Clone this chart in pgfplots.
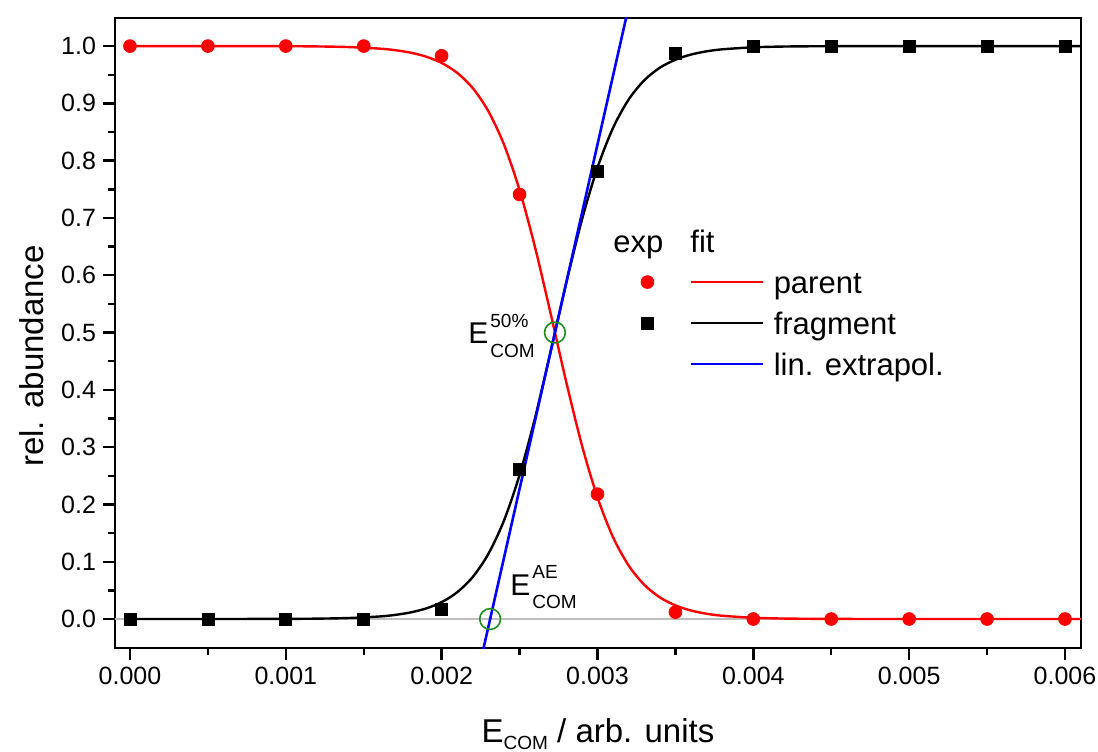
\documentclass[border=0pt]{standalone}
\usepackage{fontspec}
\setmainfont{Liberation Sans}
\usepackage{pgfplots}
\pgfplotsset{compat=1.18}
\usepackage{pgfplotstable}
\usetikzlibrary{calc}

\definecolor{cgreen}{RGB}{30,140,30}
\definecolor{cgray}{RGB}{190,190,190}

\pgfplotstableread{
x y
0.0000 1.000
0.0005 1.000
0.0010 1.000
0.0015 1.000
0.0020 0.983
0.0025 0.741
0.0030 0.218
0.0035 0.012
0.0040 0.000
0.0045 0.000
0.0050 0.000
0.0055 0.000
0.0060 0.000
}\parentexp

\pgfplotstableread{
x y
0.0000 0.000
0.0005 0.000
0.0010 0.000
0.0015 0.000
0.0020 0.017
0.0025 0.261
0.0030 0.782
0.0035 0.988
0.0040 1.000
0.0045 1.000
0.0050 1.000
0.0055 1.000
0.0060 1.000
}\fragexp

\pgfplotstableread{
x frag par
0.0000 0.00000 1.00000
0.0005 0.00002 0.99998
0.0010 0.00025 0.99975
0.0012 0.00065 0.99935
0.0014 0.00169 0.99831
0.0016 0.00441 0.99559
0.0017 0.00712 0.99288
0.0018 0.01147 0.98853
0.0019 0.01841 0.98159
0.0020 0.02945 0.97055
0.0021 0.04680 0.95320
0.0022 0.07353 0.92647
0.0023 0.11380 0.88620
0.0024 0.17190 0.82810
0.0025 0.25140 0.74860
0.0026 0.35190 0.64810
0.0027 0.46760 0.53240
0.0028 0.58690 0.41310
0.0029 0.69670 0.30330
0.0030 0.78790 0.21210
0.0031 0.85730 0.14270
0.0032 0.90670 0.09330
0.0033 0.94020 0.05980
0.0034 0.96220 0.03780
0.0035 0.97620 0.02380
0.0036 0.98520 0.01480
0.0037 0.99080 0.00920
0.0038 0.99430 0.00570
0.0040 0.99780 0.00220
0.0042 0.99920 0.00080
0.0045 0.99980 0.00020
0.0050 1.00000 0.00000
0.0055 1.00000 0.00000
0.0061 1.00000 0.00000
}\fits

\begin{document}
\begin{tikzpicture}
\begin{axis}[
  scale only axis,
  width=483pt, height=315pt,
  xmin=-0.0000962, xmax=0.0061028,
  ymin=-0.0506, ymax=1.049,
  xtick={0,0.001,0.002,0.003,0.004,0.005,0.006},
  ytick={0,0.1,0.2,0.3,0.4,0.5,0.6,0.7,0.8,0.9,1.0},
  minor x tick num=1, minor y tick num=1,
  scaled x ticks=false, scaled y ticks=false,
  xticklabel style={/pgf/number format/.cd, fixed, fixed zerofill, precision=3, assume math mode=true},
  yticklabel style={/pgf/number format/.cd, fixed, fixed zerofill, precision=1, assume math mode=true},
  ticklabel style={font=\fontsize{12.5}{12.5}\selectfont},
  tick pos=left, tick align=outside,
  major tick length=6pt, minor tick length=3.5pt,
  every tick/.style={black, line width=1.2pt},
  axis line style={line width=1.4pt},
  xlabel={E\raisebox{-3.5pt}{\fontsize{9.5}{9.5}\selectfont COM} / arb. units},
  ylabel={rel. abundance},
  label style={font=\fontsize{16.5}{16.5}\selectfont},
  xlabel style={at={(axis description cs:0.5,-0.1492)}, anchor=base},
  ylabel style={at={(axis description cs:-0.0745,0.4635)}, anchor=base, rotate=0},
  legend style={at={(axis cs:0.003277,0.6073)}, anchor=north west, draw=none, fill=none,
    inner sep=0pt, outer sep=0pt, row sep=6pt, column sep=4.5pt,
    font=\fontsize{15.5}{15.5}\selectfont,
    cells={anchor=base west},
    nodes={inner sep=0pt, text height=11pt, text depth=3.5pt}},
]
\addplot[cgray, line width=1pt, forget plot] coordinates {(-0.0002,0) (0.0062,0)};
\addplot[red, line width=1.2pt, smooth, forget plot] table[x=x, y=par] {\fits};
\addplot[black, line width=1.2pt, smooth, forget plot] table[x=x, y=frag] {\fits};
\addplot[blue, line width=1.3pt, forget plot] coordinates {(0.002228,-0.1) (0.003226,1.1)};
\addplot[only marks, mark=*, mark size=3.2pt, red, forget plot] table {\parentexp};
\addplot[only marks, mark=square*, mark size=3pt, black, forget plot] table {\fragexp};
\addplot[only marks, mark=o, mark size=5.2pt, cgreen, line width=0.8pt, forget plot] coordinates {(0.002311,0) (0.002727,0.5)};

\addlegendimage{legend image code/.code={
  \path[draw=none, fill=none] (-25.2pt,2pt) rectangle (36pt,9pt);
  \draw[red, line width=1.2pt] (0pt,5.5pt) -- (36pt,5.5pt);
  \fill[red] (-22pt,5.5pt) circle (3.2pt);}}
\addlegendentry{parent}
\addlegendimage{legend image code/.code={
  \path[draw=none, fill=none] (-25.2pt,2pt) rectangle (36pt,9pt);
  \draw[black, line width=1.2pt] (0pt,5.5pt) -- (36pt,5.5pt);
  \fill[black] (-25pt,2.5pt) rectangle (-19pt,8.5pt);}}
\addlegendentry{fragment}
\addlegendimage{legend image code/.code={
  \path[draw=none, fill=none] (-25.2pt,2pt) rectangle (36pt,9pt);
  \draw[blue, line width=1.3pt] (0pt,5.5pt) -- (36pt,5.5pt);}}
\addlegendentry{lin. extrapol.}

\node[anchor=base west, inner sep=0pt, font=\fontsize{15.5}{15.5}\selectfont] at (axis cs:0.0031,0.6405) {exp};
\node[anchor=base west, inner sep=0pt, font=\fontsize{15.5}{15.5}\selectfont] at (axis cs:0.003594,0.6405) {fit};

\node[anchor=base west, inner sep=0pt, font=\fontsize{15}{15}\selectfont] at (axis cs:0.002439,0.0419)
  {E\rlap{\hspace{1pt}\raisebox{8.5pt}{\fontsize{9.5}{9.5}\selectfont AE}}\hspace{1pt}\raisebox{-6.5pt}{\fontsize{9.5}{9.5}\selectfont COM}};
\node[anchor=base west, inner sep=0pt, font=\fontsize{15}{15}\selectfont] at (axis cs:0.002169,0.4817)
  {E\rlap{\hspace{1pt}\raisebox{8pt}{\fontsize{9.5}{9.5}\selectfont 50\%}}\hspace{1pt}\raisebox{-7pt}{\fontsize{9.5}{9.5}\selectfont COM}};

\coordinate (SW) at (rel axis cs:0,0);
\coordinate (NE) at (rel axis cs:1,1);
\end{axis}
\pgfresetboundingbox
\path[use as bounding box] ($(SW)+(-57.5pt,-51.5pt)$) rectangle ($(NE)+(8.5pt,9pt)$);
\end{tikzpicture}
\end{document}
